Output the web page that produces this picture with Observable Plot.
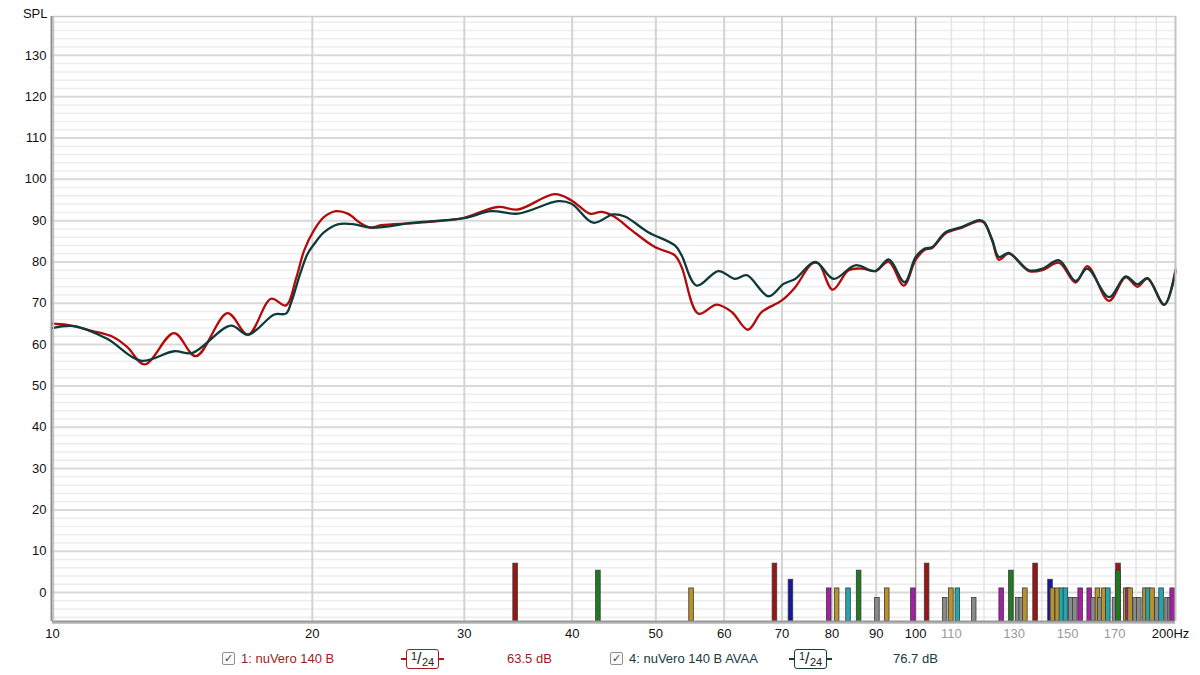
<!DOCTYPE html>
<html><head><meta charset="utf-8">
<script src="https://cdn.jsdelivr.net/npm/d3@7"></script>
<script src="https://cdn.jsdelivr.net/npm/@observablehq/plot@0.6"></script>
<style>
body{margin:0;background:#fff;font-family:"Liberation Sans",Arial,sans-serif;}
#wrap{position:relative;width:1200px;height:675px;overflow:hidden;}
#wrap svg{position:absolute;left:0;top:0;}
.lg{position:absolute;font-size:13px;line-height:16px;white-space:nowrap;}
.cb{position:absolute;width:11px;height:11px;border:1px solid #8f8f8f;border-radius:2px;background:#fafafa;font-size:11px;line-height:11px;text-align:center;color:#444;}
.fr{position:absolute;width:31px;height:18px;border:1.6px solid;border-radius:3px;font-size:11px;}
.fr .n{position:absolute;left:4px;top:0px;}
.fr .s{position:absolute;left:10px;top:0px;font-size:16px;line-height:18px;}
.fr .d{position:absolute;left:15px;top:6px;}
.tk{position:absolute;width:5px;height:2px;}
</style>
</head><body>
<div id="wrap"></div>
<script>
// ---- data ----
const redFreq = [10.0,10.4,11.07,11.77,12.21,12.79,13.83,14.66,15.95,16.85,17.91,18.64,19.15,19.57,20.09,20.64,21.31,21.98,22.78,23.39,24.03,26.24,28.72,29.99,32.82,34.62,38.18,39.93,41.93,43.25,44.82,46.86,49.88,52.61,53.56,56.01,58.82,61.23,63.91,66.34,69.98,72.52,75.83,77.19,80.14,83.64,86.65,89.79,93.07,96.87,100.0,102.6,104.5,108.3,113.2,118.4,120.0,122.7,124.9,128.2,135.3,140.2,146.6,153.2,158.1,167.5,175.1,180.7,185.6,194.1,200];
const redSpl = [65.1,64.8,63.4,61.8,59.4,55.2,62.8,57.2,67.6,62.4,71.1,69.5,76.0,82.8,87.7,90.9,92.3,91.7,89.3,88.3,88.9,89.4,90.1,90.7,93.3,92.7,96.4,94.9,91.7,92.1,90.9,87.7,83.6,81.6,78.8,67.5,69.7,67.9,63.6,67.9,70.7,73.9,79.6,79.6,73.3,78.0,78.4,77.8,80.0,74.3,80.5,83.0,83.4,86.9,88.3,89.9,89.5,85.0,80.5,82.0,77.8,78.0,79.8,75.0,79.0,70.6,76.3,74.0,76.0,69.6,78.2];
const tealFreq = [10.0,10.6,11.57,12.65,13.83,14.53,16.09,16.85,18.07,18.64,18.89,19.35,19.75,20.09,20.64,21.4,22.37,23.39,26.24,29.99,32.24,34.62,38.53,39.93,42.31,44.62,46.03,49.0,52.61,53.56,55.75,59.09,61.77,63.73,67.54,70.3,72.52,76.5,80.35,85.11,89.79,93.07,97.12,100.0,102.6,104.5,108.3,113.2,118.4,120.0,122.7,124.9,128.2,135.3,140.2,146.6,153.2,158.1,167.5,175.1,180.7,185.6,194.1,200];
const tealSpl = [64.0,64.5,61.4,56.1,58.4,58.0,64.6,62.4,67.3,67.5,70.0,77.0,82.0,84.3,87.2,89.1,89.1,88.3,89.5,90.6,92.3,91.7,94.7,94.1,89.5,91.5,91.0,87.2,84.0,81.6,74.3,77.8,75.9,76.8,71.7,74.7,75.9,80.0,75.9,79.2,77.8,80.6,75.1,81.2,83.3,83.6,87.2,88.5,90.1,89.7,85.3,81.2,82.2,78.0,78.4,80.4,75.4,78.4,71.5,76.5,74.6,76.1,69.7,77.6];

const modeFreqs = [34.4,42.9,55.0,68.7,71.7,79.4,81.1,83.6,86.0,90.3,92.7,99.4,103.1,108.2,110.0,111.9,116.9,125.8,129.1,131.5,132.7,134.0,137.7,143.3,144.2,146.1,147.7,149.3,151.5,153.1,155.3,159.1,160.8,162.6,163.7,165.3,167.2,170.2,171.8,171.8,175.4,176.4,177.4,179.8,181.6,184.6,186.1,188.1,190.6,192.7,195.8,197.4,198.5];
const modeKinds = ["red","green","yellow","red","blue","purple","yellow","cyan","green","gray","yellow","purple","red","gray","yellow","cyan","gray","purple","green","gray","gray","yellow","red","blue","yellow","yellow","cyan","cyan","gray","gray","purple","purple","gray","yellow","gray","yellow","cyan","gray","red","green","yellow","purple","yellow","gray","gray","yellow","cyan","yellow","gray","cyan","gray","gray","purple"];
const kindNames = ["red","green","blue","yellow","purple","cyan","gray"];
const kindLevels = [7, 5.3, 3.1, 1, 1, 1, -1.3];
const kindColors = ["#9c1515","#1f7a22","#1616a0","#b8932a","#a51ea5","#22a7b0","#8a8a8a"];

const yTicks = [0,10,20,30,40,50,60,70,80,90,100,110,120,130];
const yMinor = d3.range(-6, 139, 2).filter(v => v % 10 !== 0);
const xTicksMain = [10,20,30,40,50,60,70,80,90,100];
const xTicksGray = [110,130,150,170];
const xGridA = [20,30,40,50,60,70,80,90];
const xGridB = [110,120,130,140,150,160,170,180,190];
const yMin = -7, yMax = 139.4;

// ---- build ----
const red = redFreq.map((f,i) => ({f, v: redSpl[i]}));
const teal = tealFreq.map((f,i) => ({f, v: tealSpl[i]}));
const modes = modeFreqs.map((f,i) => {
  const k = kindNames.indexOf(modeKinds[i]);
  return {f, v: kindLevels[k], c: kindColors[k]};
});
const halfW = Math.pow(10, 2.3/863);

const chart = Plot.plot({
  width: 1200, height: 645,
  marginLeft: 52, marginRight: 25, marginTop: 16, marginBottom: 24,
  style: {fontFamily: "Liberation Sans, Arial, sans-serif", fontSize: "13px", background: "white", color: "#111", overflow: "visible"},
  x: {type: "log", domain: [10, 200]},
  y: {domain: [yMin, yMax]},
  marks: [
    Plot.ruleY(yMinor, {stroke: "#ededed", strokeWidth: 1.5}),
    Plot.ruleY(yTicks, {stroke: "#d9d9d9", strokeWidth: 2}),
    Plot.ruleX(xGridB, {stroke: "#e4e4e4", strokeWidth: 1.5}),
    Plot.ruleX(xGridA, {stroke: "#d4d4d4", strokeWidth: 2}),
    Plot.ruleX([100], {stroke: "#a9a9a9", strokeWidth: 1.5}),
    Plot.rect(modes, {x1: d => d.f / halfW, x2: d => d.f * halfW, y1: d => yMin, y2: "v", fill: "c", stroke: "#3a3a3a", strokeWidth: 0.8}),
    Plot.line(red, {x: "f", y: "v", stroke: "#b30b0b", strokeWidth: 2.3, curve: "catmull-rom"}),
    Plot.line(teal, {x: "f", y: "v", stroke: "#0f3a3a", strokeWidth: 2.3, curve: "catmull-rom"}),
    // frame
    Plot.ruleY([yMax], {stroke: "#c9c9c9", strokeWidth: 1.5}),
    Plot.ruleX([200], {stroke: "#c4c4c4", strokeWidth: 2}),
    Plot.ruleY([yMin], {stroke: "#c6c6c6", strokeWidth: 2, dy: 1.5}),
    Plot.ruleY([yMin], {stroke: "#9a9a9a", strokeWidth: 2}),
    Plot.ruleX([10], {stroke: "#c6c6c6", strokeWidth: 1.5, dx: 1}),
    Plot.ruleX([10], {stroke: "#8e8e8e", strokeWidth: 2, dx: -1}),
    // axes
    Plot.axisY({ticks: yTicks, tickSize: 0, tickPadding: 6, label: null, fill: "#111"}),
    Plot.axisX({ticks: xTicksMain, tickSize: 0, tickPadding: 7, label: null, tickFormat: d => String(d), fill: "#111"}),
    Plot.axisX({ticks: xTicksGray, tickSize: 0, tickPadding: 7, label: null, tickFormat: d => String(d), fill: "#9a9a9a"}),
    Plot.axisX({ticks: [200], tickSize: 0, tickPadding: 7, label: null, tickFormat: d => d + "Hz", fill: "#111", dx: -5}),
    Plot.text(["SPL"], {frameAnchor: "top-left", text: d => d, textAnchor: "end", dx: -5, dy: -8, fill: "#111"})
  ]
});
const wrap = document.getElementById("wrap");
wrap.appendChild(chart);

// ---- legend ----
const legendItems = [
  {cb: 222, label: "1: nuVero 140 B", lx: 241, box: 406, val: "63.5 dB", vx: 507, color: "#a31b1b"},
  {cb: 610, label: "4: nuVero 140 B AVAA", lx: 629, box: 794, val: "76.7 dB", vx: 893, color: "#163c3c"}
];
legendItems.forEach(it => {
  const cb = document.createElement("div");
  cb.className = "cb"; cb.style.left = it.cb + "px"; cb.style.top = "652px"; cb.textContent = "✓";
  wrap.appendChild(cb);
  const t = document.createElement("div");
  t.className = "lg"; t.style.left = it.lx + "px"; t.style.top = "651px"; t.style.color = it.color; t.textContent = it.label;
  wrap.appendChild(t);
  const b = document.createElement("div");
  b.className = "fr"; b.style.left = it.box + "px"; b.style.top = "649px"; b.style.borderColor = it.color; b.style.color = "#222";
  b.innerHTML = '<span class="n">1</span><span class="s">/</span><span class="d">24</span>';
  wrap.appendChild(b);
  [it.box - 5, it.box + 33].forEach(x => {
    const k = document.createElement("div");
    k.className = "tk"; k.style.left = x + "px"; k.style.top = "658px"; k.style.background = it.color;
    wrap.appendChild(k);
  });
  const v = document.createElement("div");
  v.className = "lg"; v.style.left = it.vx + "px"; v.style.top = "651px"; v.style.color = it.color; v.textContent = it.val;
  wrap.appendChild(v);
});
</script>
</body></html>
